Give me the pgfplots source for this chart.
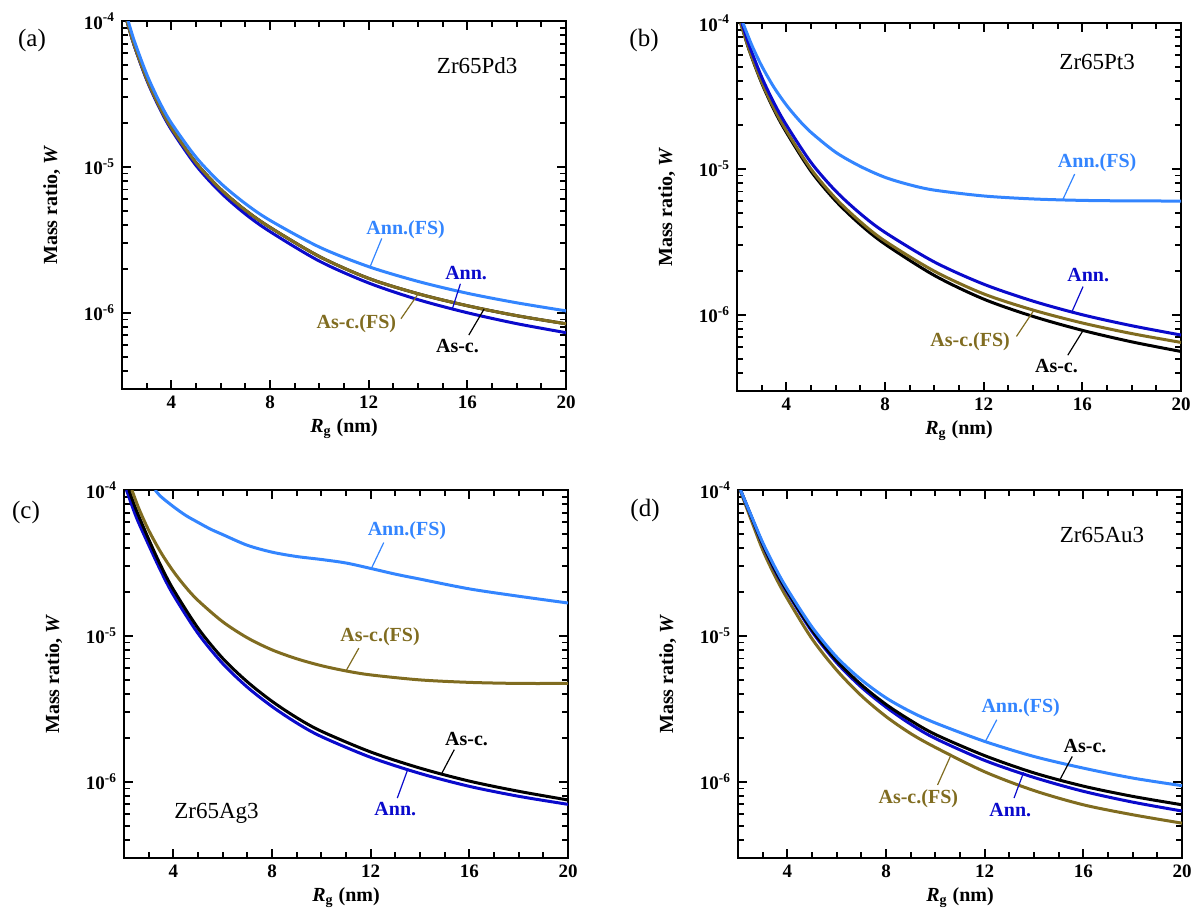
\documentclass[border=0pt]{standalone}
\usepackage{fontspec}
\setmainfont{Liberation Serif}
\usepackage{pgfplots}
\pgfplotsset{compat=1.18}

\definecolor{annfs}{RGB}{51,133,255}
\definecolor{ann}{RGB}{10,10,204}
\definecolor{ascfs}{RGB}{128,108,32}

\pgfplotsset{
  every axis/.append style={
    scale only axis, width=222pt, height=184pt,
    xmin=2, xmax=20, ymin=3e-7, ymax=1e-4,
    axis line style={line width=1.3pt},
    xtick={4,8,12,16,20},
    xticklabels={4,8,12,16,20},
    minor xtick={3,5,6,7,9,10,11,13,14,15,17,18,19},
    ytick={1e-6,1e-5,1e-4},
    yticklabels={10\textsuperscript{-6},10\textsuperscript{-5},10\textsuperscript{-4}},
    minor ytick={3e-7,4e-7,5e-7,6e-7,7e-7,8e-7,9e-7,2e-6,3e-6,4e-6,5e-6,6e-6,7e-6,8e-6,9e-6,2e-5,3e-5,4e-5,5e-5,6e-5,7e-5,8e-5,9e-5},
    ticklabel style={font=\fontsize{9.5}{11}\selectfont\bfseries},
    label style={font=\fontsize{10}{12}\selectfont\bfseries},
    xlabel={\textit{R}\textsubscript{g} (nm)},
    ylabel={Mass ratio, \textit{W}},
    ylabel shift=5pt,
    xlabel shift=-2pt,
  },
  every axis plot/.append style={line width=1.5pt, no markers, smooth, tension=0.5},
}
\tikzset{
  lab/.style={font=\fontsize{10}{12}\selectfont\bfseries, inner sep=0pt},
  lead/.style={line width=0.6pt},
  alloy/.style={font=\fontsize{11.5}{13}\selectfont, inner sep=0pt},
  tk/.style={line width=0.9pt, black},
}

% tick marks on all four sides, drawn inward
\newcommand{\panelticks}{%
  \pgfplotsinvokeforeach{4e-7,5e-7,6e-7,7e-7,8e-7,9e-7,2e-6,3e-6,4e-6,5e-6,6e-6,7e-6,8e-6,9e-6,2e-5,3e-5,4e-5,5e-5,6e-5,7e-5,8e-5,9e-5}{
    \draw[tk] (axis cs:2,##1) -- ([xshift=2.8pt]axis cs:2,##1);
    \draw[tk] (axis cs:20,##1) -- ([xshift=-2.8pt]axis cs:20,##1);
  }
  \pgfplotsinvokeforeach{1e-6,1e-5}{
    \draw[tk] (axis cs:2,##1) -- ([xshift=4.5pt]axis cs:2,##1);
    \draw[tk] (axis cs:20,##1) -- ([xshift=-4.5pt]axis cs:20,##1);
  }
  \pgfplotsinvokeforeach{3,5,6,7,9,10,11,13,14,15,17,18,19}{
    \draw[tk] (axis cs:##1,3e-7) -- ([yshift=2.8pt]axis cs:##1,3e-7);
    \draw[tk] (axis cs:##1,1e-4) -- ([yshift=-2.8pt]axis cs:##1,1e-4);
  }
  \pgfplotsinvokeforeach{4,8,12,16}{
    \draw[tk] (axis cs:##1,3e-7) -- ([yshift=4.5pt]axis cs:##1,3e-7);
    \draw[tk] (axis cs:##1,1e-4) -- ([yshift=-4.5pt]axis cs:##1,1e-4);
  }
}

\begin{document}
\begin{tikzpicture}
\useasboundingbox (0,0) rectangle (599.5pt,-456.5pt);

% (a) Zr65Pd3
\begin{semilogyaxis}[at={(61pt,-10.5pt)}, anchor=north west]
  \panelticks
  \addplot[black] coordinates {(2.2,1e-4)(2.5,6.79e-5)(3,4.01e-5)(3.5,2.62e-5)(4,1.85e-5)(5,1.067e-5)(6,7.02e-6)(7,5.05e-6)(8,3.85e-6)(10,2.43e-6)(12,1.72e-6)(14,1.35e-6)(16,1.117e-6)(18,9.55e-7)(20,8.4e-7)};
  \addplot[ann] coordinates {(2.2,1e-4)(2.5,6.75e-5)(3,3.95e-5)(3.5,2.57e-5)(4,1.8e-5)(5,1.023e-5)(6,6.67e-6)(7,4.75e-6)(8,3.6e-6)(10,2.26e-6)(12,1.6e-6)(14,1.23e-6)(16,1.0e-6)(18,8.42e-7)(20,7.3e-7)};
  \addplot[ascfs] coordinates {(2.2,1e-4)(2.5,6.79e-5)(3,4.01e-5)(3.5,2.62e-5)(4,1.85e-5)(5,1.067e-5)(6,7.02e-6)(7,5.05e-6)(8,3.85e-6)(10,2.43e-6)(12,1.72e-6)(14,1.35e-6)(16,1.117e-6)(18,9.55e-7)(20,8.4e-7)};
  \addplot[annfs] coordinates {(2.25,1e-4)(2.5,7.29e-5)(3,4.32e-5)(3.5,2.83e-5)(4,2.0e-5)(5,1.165e-5)(6,7.73e-6)(7,5.6e-6)(8,4.3e-6)(10,2.82e-6)(12,2.07e-6)(14,1.64e-6)(16,1.36e-6)(18,1.17e-6)(20,1.03e-6)};
  \node[alloy] at (axis cs:16.4,4.97e-5) {Zr65Pd3};
  \node[lab, annfs] at (axis cs:13.5,3.73e-6) {Ann.(FS)};
  \draw[lead, annfs] (axis cs:12.53,3.23e-6) -- (axis cs:12.06,2.07e-6);
  \node[lab, ann] at (axis cs:15.95,1.88e-6) {Ann.};
  \draw[lead, ann] (axis cs:15.72,1.58e-6) -- (axis cs:15.38,1.05e-6);
  \node[lab, ascfs] at (axis cs:11.5,8.36e-7) {As-c.(FS)};
  \draw[lead, ascfs] (axis cs:13.31,9.1e-7) -- (axis cs:14.01,1.35e-6);
  \node[lab] at (axis cs:15.6,5.94e-7) {As-c.};
  \draw[lead] (axis cs:16.06,7.03e-7) -- (axis cs:16.68,1.06e-6);
\end{semilogyaxis}

% (b) Zr65Pt3
\begin{semilogyaxis}[at={(368.5pt,-11.5pt)}, anchor=north west]
  \panelticks
  \addplot[black] coordinates {(2.15,1e-4)(2.5,6.47e-5)(3,3.88e-5)(3.5,2.54e-5)(4,1.78e-5)(5,9.63e-6)(6,6.03e-6)(7,4.15e-6)(8,3.05e-6)(10,1.86e-6)(12,1.28e-6)(14,9.74e-7)(16,7.82e-7)(18,6.52e-7)(20,5.6e-7)};
  \addplot[ascfs] coordinates {(2.15,1e-4)(2.5,6.52e-5)(3,3.94e-5)(3.5,2.6e-5)(4,1.83e-5)(5,9.97e-6)(6,6.27e-6)(7,4.34e-6)(8,3.2e-6)(10,1.99e-6)(12,1.39e-6)(14,1.077e-6)(16,8.78e-7)(18,7.43e-7)(20,6.46e-7)};
  \addplot[ann] coordinates {(2.2,1e-4)(2.5,7.0e-5)(3,4.26e-5)(3.5,2.83e-5)(4,2.0e-5)(5,1.107e-5)(6,7.05e-6)(7,4.93e-6)(8,3.67e-6)(10,2.3e-6)(12,1.62e-6)(14,1.24e-6)(16,1.0e-6)(18,8.41e-7)(20,7.26e-7)};
  \addplot[annfs] coordinates {(2.24,1e-4)(2.6,7.05e-5)(3,5.08e-5)(3.5,3.62e-5)(4,2.74e-5)(4.5,2.17e-5)(5,1.78e-5)(6,1.3e-5)(7,1.04e-5)(8,8.75e-6)(9,7.78e-6)(10,7.15e-6)(12,6.52e-6)(14,6.22e-6)(16,6.08e-6)(18,6.03e-6)(20,6.02e-6)};
  \node[alloy] at (axis cs:16.6,5.43e-5) {Zr65Pt3};
  \node[lab, annfs] at (axis cs:16.6,1.1e-5) {Ann.(FS)};
  \draw[lead, annfs] (axis cs:15.69,9.22e-6) -- (axis cs:15.2,6.12e-6);
  \node[lab, ann] at (axis cs:16.24,1.87e-6) {Ann.};
  \draw[lead, ann] (axis cs:16.03,1.56e-6) -- (axis cs:15.57,1.04e-6);
  \node[lab, ascfs] at (axis cs:11.45,6.53e-7) {As-c.(FS)};
  \draw[lead, ascfs] (axis cs:13.33,7.1e-7) -- (axis cs:14.03,1.07e-6);
  \node[lab] at (axis cs:14.95,4.47e-7) {As-c.};
  \draw[lead] (axis cs:15.41,5.28e-7) -- (axis cs:16.03,7.8e-7);
\end{semilogyaxis}

% (c) Zr65Ag3
\begin{semilogyaxis}[at={(62pt,-245pt)}, anchor=north west]
  \panelticks
  \addplot[ann] coordinates {(2.1,1e-4)(2.5,6.5e-5)(3,4.2e-5)(3.5,2.77e-5)(4,1.91e-5)(5,1.04e-5)(6,6.46e-6)(7,4.45e-6)(8,3.28e-6)(9,2.53e-6)(10,2.04e-6)(12,1.47e-6)(14,1.14e-6)(16,9.3e-7)(18,7.95e-7)(20,7.0e-7)};
  \addplot[black] coordinates {(2.2,1e-4)(2.5,7.27e-5)(3,4.6e-5)(3.5,3.01e-5)(4,2.08e-5)(5,1.13e-5)(6,7.02e-6)(7,4.84e-6)(8,3.56e-6)(9,2.75e-6)(10,2.22e-6)(12,1.6e-6)(14,1.24e-6)(16,1.01e-6)(18,8.6e-7)(20,7.5e-7)};
  \addplot[ascfs] coordinates {(2.32,1e-4)(2.6,7.48e-5)(3,5.3e-5)(3.5,3.72e-5)(4,2.77e-5)(4.5,2.16e-5)(5,1.75e-5)(6,1.25e-5)(7,9.7e-6)(8,8.02e-6)(9,6.97e-6)(10,6.25e-6)(11,5.75e-6)(12,5.4e-6)(14,4.99e-6)(16,4.8e-6)(18,4.72e-6)(20,4.72e-6)};
  \addplot[annfs] coordinates {(3.26,1e-4)(3.5,9.0e-5)(4,7.7e-5)(4.5,6.7e-5)(5,6.0e-5)(5.5,5.4e-5)(6,4.95e-5)(7,4.18e-5)(8,3.75e-5)(9,3.5e-5)(10,3.34e-5)(11,3.16e-5)(12,2.9e-5)(13,2.65e-5)(14,2.45e-5)(16,2.1e-5)(18,1.87e-5)(20,1.68e-5)};
  \node[alloy] at (axis cs:5.75,6.1e-7) {Zr65Ag3};
  \node[lab, annfs] at (axis cs:13.47,5.26e-5) {Ann.(FS)};
  \draw[lead, annfs] (axis cs:12.53,4.36e-5) -- (axis cs:12.03,2.9e-5);
  \node[lab, ascfs] at (axis cs:12.38,9.8e-6) {As-c.(FS)};
  \draw[lead, ascfs] (axis cs:11.52,8.24e-6) -- (axis cs:11.0,5.75e-6);
  \node[lab] at (axis cs:15.89,1.96e-6) {As-c.};
  \draw[lead] (axis cs:15.39,1.66e-6) -- (axis cs:14.87,1.13e-6);
  \node[lab, ann] at (axis cs:13.0,6.53e-7) {Ann.};
  \draw[lead, ann] (axis cs:13.08,7.73e-7) -- (axis cs:13.5,1.21e-6);
\end{semilogyaxis}

% (d) Zr65Au3
\begin{semilogyaxis}[at={(369pt,-245pt)}, anchor=north west]
  \panelticks
  \addplot[ascfs] coordinates {(2.08,1e-4)(2.5,6.46e-5)(3,3.89e-5)(3.5,2.57e-5)(4,1.8e-5)(5,9.55e-6)(6,5.82e-6)(7,3.89e-6)(8,2.8e-6)(9,2.14e-6)(10,1.72e-6)(12,1.17e-6)(14,8.7e-7)(16,6.95e-7)(18,5.94e-7)(20,5.2e-7)};
  \addplot[ann] coordinates {(2.1,1e-4)(2.5,6.8e-5)(3,4.22e-5)(3.5,2.8e-5)(4,1.98e-5)(5,1.07e-5)(6,6.55e-6)(7,4.45e-6)(8,3.25e-6)(9,2.48e-6)(10,1.98e-6)(12,1.4e-6)(14,1.07e-6)(16,8.6e-7)(18,7.25e-7)(20,6.3e-7)};
  \addplot[black] coordinates {(2.1,1e-4)(2.5,6.84e-5)(3,4.27e-5)(3.5,2.85e-5)(4,2.02e-5)(5,1.1e-5)(6,6.76e-6)(7,4.62e-6)(8,3.39e-6)(9,2.63e-6)(10,2.11e-6)(12,1.51e-6)(14,1.15e-6)(16,9.33e-7)(18,7.94e-7)(20,6.95e-7)};
  \addplot[annfs] coordinates {(2.1,1e-4)(2.5,6.9e-5)(3,4.37e-5)(3.5,2.95e-5)(4,2.09e-5)(5,1.15e-5)(6,7.16e-6)(7,5.0e-6)(8,3.76e-6)(9,3.02e-6)(10,2.53e-6)(12,1.89e-6)(14,1.49e-6)(16,1.24e-6)(18,1.06e-6)(20,9.4e-7)};
  \node[alloy] at (axis cs:16.76,4.92e-5) {Zr65Au3};
  \node[lab, annfs] at (axis cs:13.46,3.2e-6) {Ann.(FS)};
  \draw[lead, annfs] (axis cs:12.49,2.66e-6) -- (axis cs:12.03,1.89e-6);
  \node[lab] at (axis cs:16.07,1.77e-6) {As-c.};
  \draw[lead] (axis cs:15.55,1.49e-6) -- (axis cs:15.06,1.04e-6);
  \node[lab, ann] at (axis cs:13.04,6.43e-7) {Ann.};
  \draw[lead, ann] (axis cs:13.19,7.73e-7) -- (axis cs:13.58,1.16e-6);
  \node[lab, ascfs] at (axis cs:9.31,7.6e-7) {As-c.(FS)};
  \draw[lead, ascfs] (axis cs:10.09,9.5e-7) -- (axis cs:10.63,1.52e-6);
\end{semilogyaxis}

\node[font=\fontsize{12.5}{14}\selectfont] at (16pt,-20pt) {(a)};
\node[font=\fontsize{12.5}{14}\selectfont] at (322pt,-20pt) {(b)};
\node[font=\fontsize{12.5}{14}\selectfont] at (13pt,-256pt) {(c)};
\node[font=\fontsize{12.5}{14}\selectfont] at (322.5pt,-255pt) {(d)};
\end{tikzpicture}
\end{document}
